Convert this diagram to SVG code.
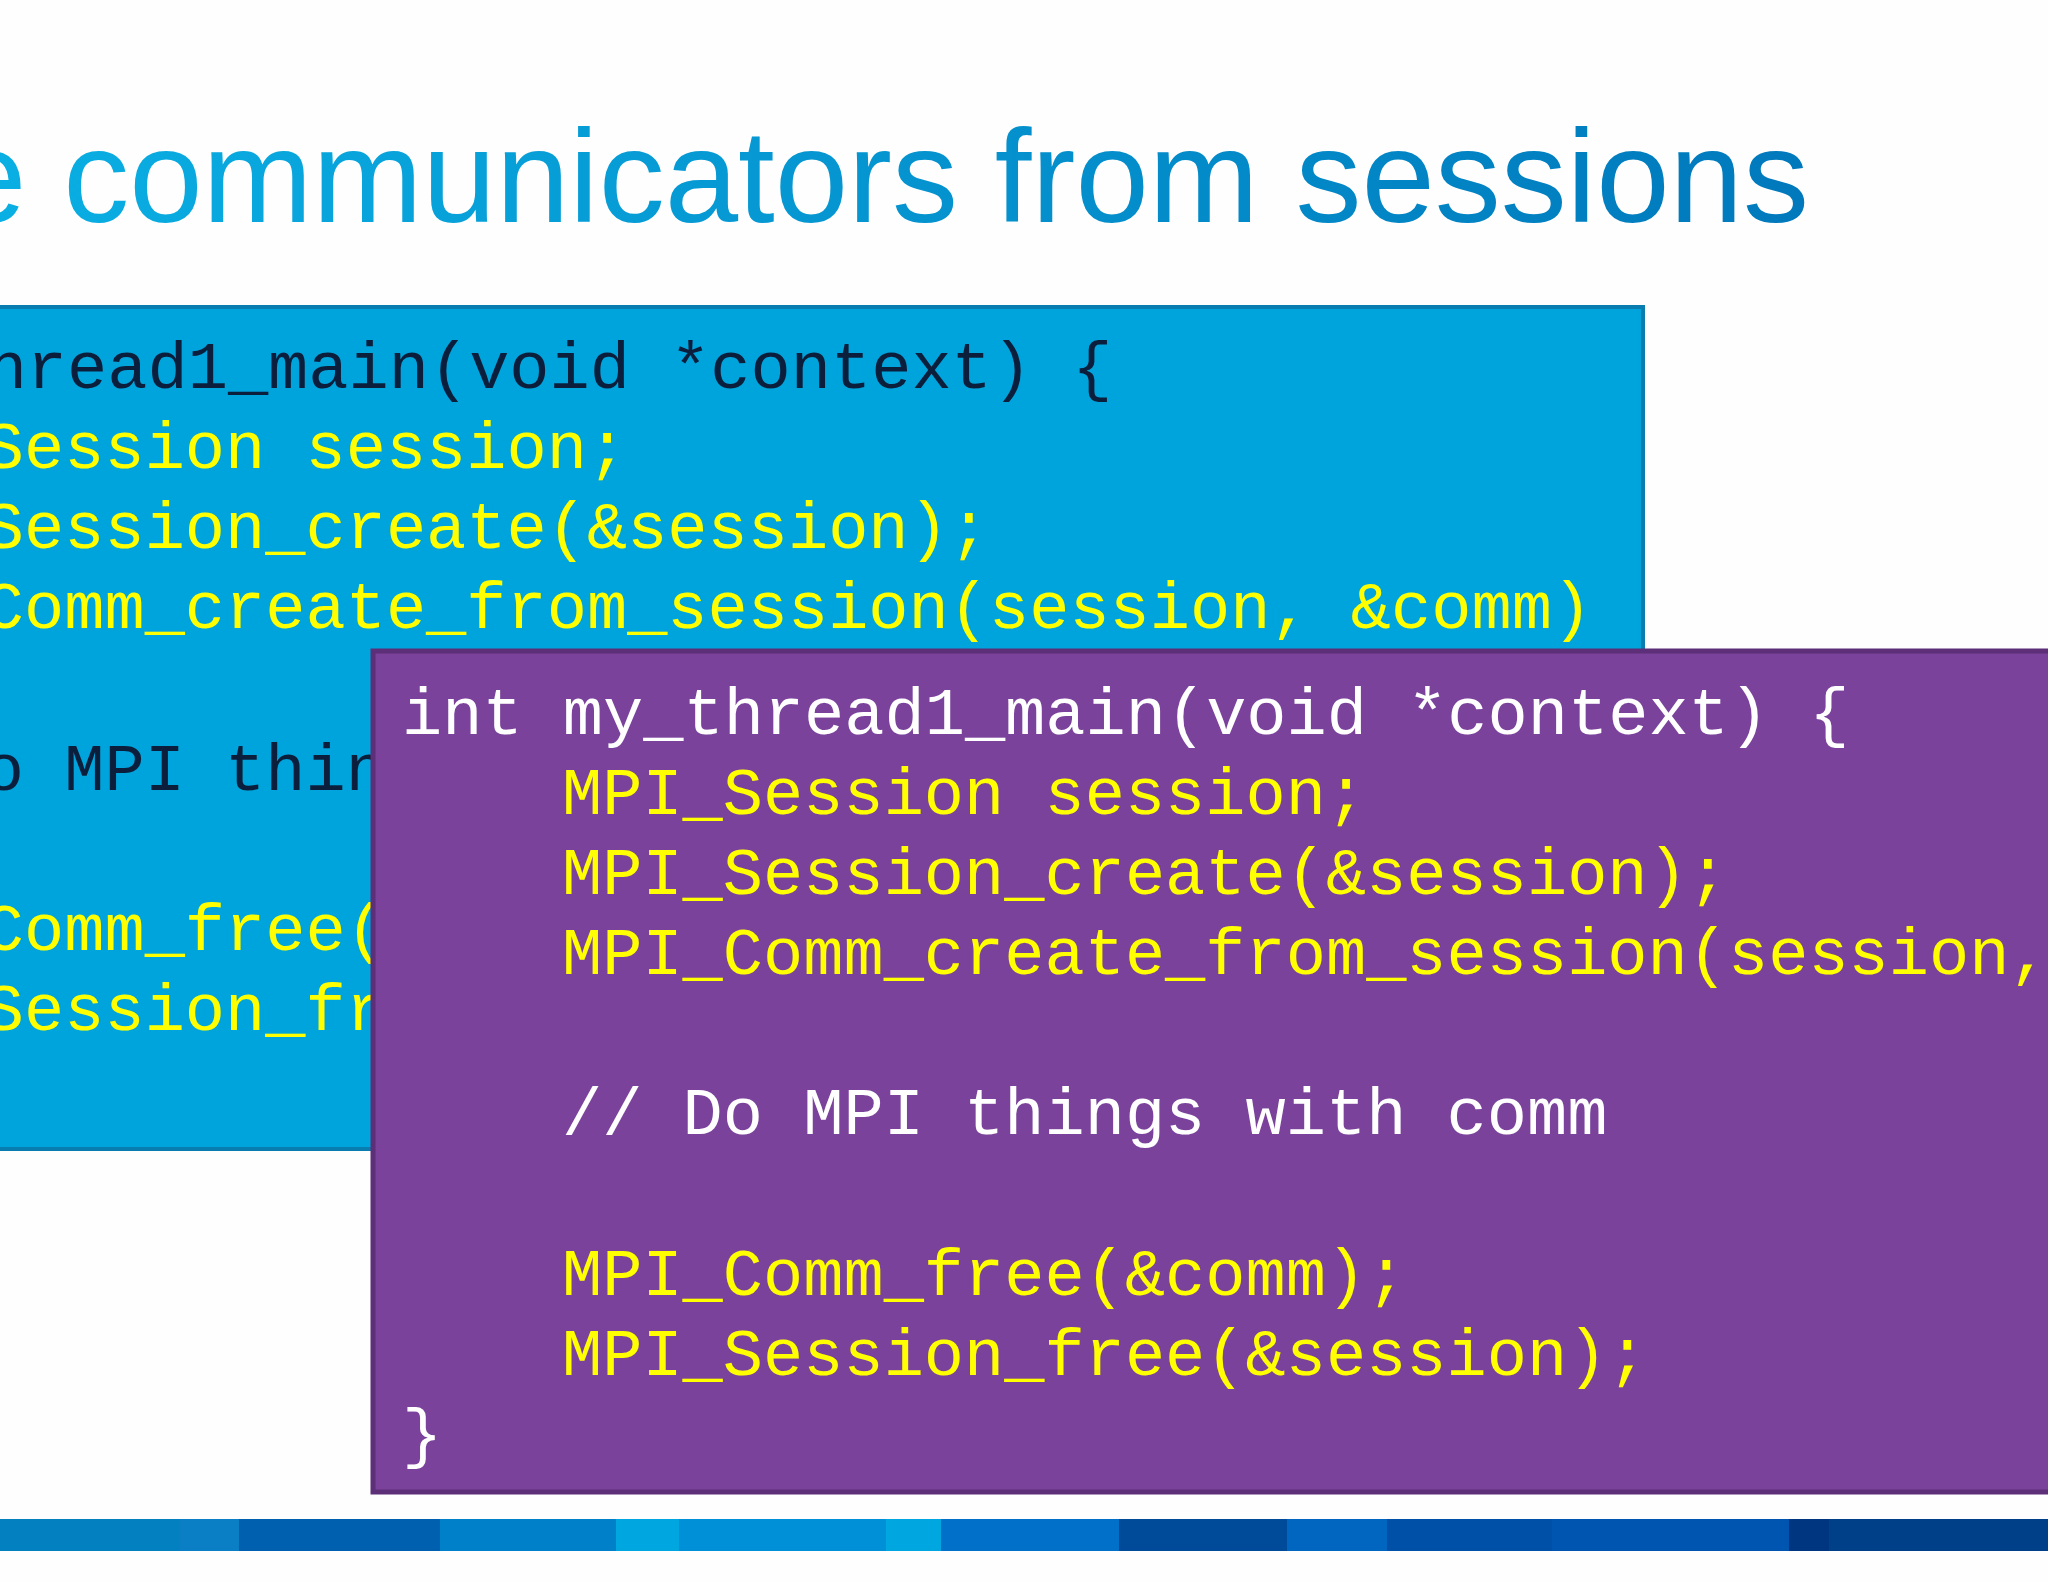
<svg xmlns="http://www.w3.org/2000/svg" width="2048" height="1582" viewBox="0 0 2048 1582">
<defs>
<linearGradient id="tg" x1="0" x2="1" y1="0" y2="0"><stop offset="0" stop-color="#0ab0e4"/><stop offset="1" stop-color="#0079bc"/></linearGradient>
<style>
.c{font-family:"Liberation Mono","DejaVu Sans Mono",monospace;font-size:67px;white-space:pre}
.y{fill:#ffff00}.w{fill:#ffffff}.d{fill:#0b1f3c}
</style>
</defs>
<rect width="2048" height="1582" fill="#fefefe"/>
<text x="1809" y="222" text-anchor="end" font-family="Liberation Sans, Arial, sans-serif" font-size="132" fill="url(#tg)">e communicators from sessions</text>
<g id="blue">
<rect x="-10" y="307" width="1653" height="842" fill="#00a4dc" stroke="#0a7db0" stroke-width="4"/>
<text class="c d" x="-335" y="388">int my_thread1_main(void *context) {</text>
<text class="c y" x="-177" y="468">MPI_Session session;</text>
<text class="c y" x="-177" y="548">MPI_Session_create(&amp;session);</text>
<text class="c y" x="-177" y="628">MPI_Comm_create_from_session(session, &amp;comm)</text>
<text class="c d" x="-177" y="790">// Do MPI things with comm</text>
<text class="c y" x="-177" y="950">MPI_Comm_free(&amp;comm);</text>
<text class="c y" x="-177" y="1030">MPI_Session_free(&amp;session);</text>
</g>
<g id="purple">
<rect x="373" y="651" width="1700" height="841" fill="#7a429b" stroke="#5c2f78" stroke-width="5"/>
<text class="c w" x="402" y="734">int my_thread1_main(void *context) {</text>
<text class="c y" x="562" y="814">MPI_Session session;</text>
<text class="c y" x="562" y="894">MPI_Session_create(&amp;session);</text>
<text class="c y" x="562" y="974">MPI_Comm_create_from_session(session, &amp;comm);</text>
<text class="c w" x="562" y="1134">// Do MPI things with comm</text>
<text class="c y" x="562" y="1295">MPI_Comm_free(&amp;comm);</text>
<text class="c y" x="562" y="1375">MPI_Session_free(&amp;session);</text>
<text class="c w" x="402" y="1455">}</text>
</g>
<g id="bar">
<rect x="0" y="1519" width="180" height="32" fill="#0280c0"/>
<rect x="180" y="1519" width="59" height="32" fill="#0a7fc6"/>
<rect x="239" y="1519" width="201" height="32" fill="#0060b0"/>
<rect x="440" y="1519" width="176" height="32" fill="#0080c8"/>
<rect x="616" y="1519" width="63" height="32" fill="#00a6e0"/>
<rect x="679" y="1519" width="207" height="32" fill="#0090d8"/>
<rect x="886" y="1519" width="55" height="32" fill="#00a6e0"/>
<rect x="941" y="1519" width="178" height="32" fill="#0070c8"/>
<rect x="1119" y="1519" width="168" height="32" fill="#004a9a"/>
<rect x="1287" y="1519" width="100" height="32" fill="#0066c0"/>
<rect x="1387" y="1519" width="165" height="32" fill="#0050a8"/>
<rect x="1552" y="1519" width="237" height="32" fill="#0055b0"/>
<rect x="1789" y="1519" width="40" height="32" fill="#003580"/>
<rect x="1829" y="1519" width="219" height="32" fill="#004088"/>
</g>
</svg>
